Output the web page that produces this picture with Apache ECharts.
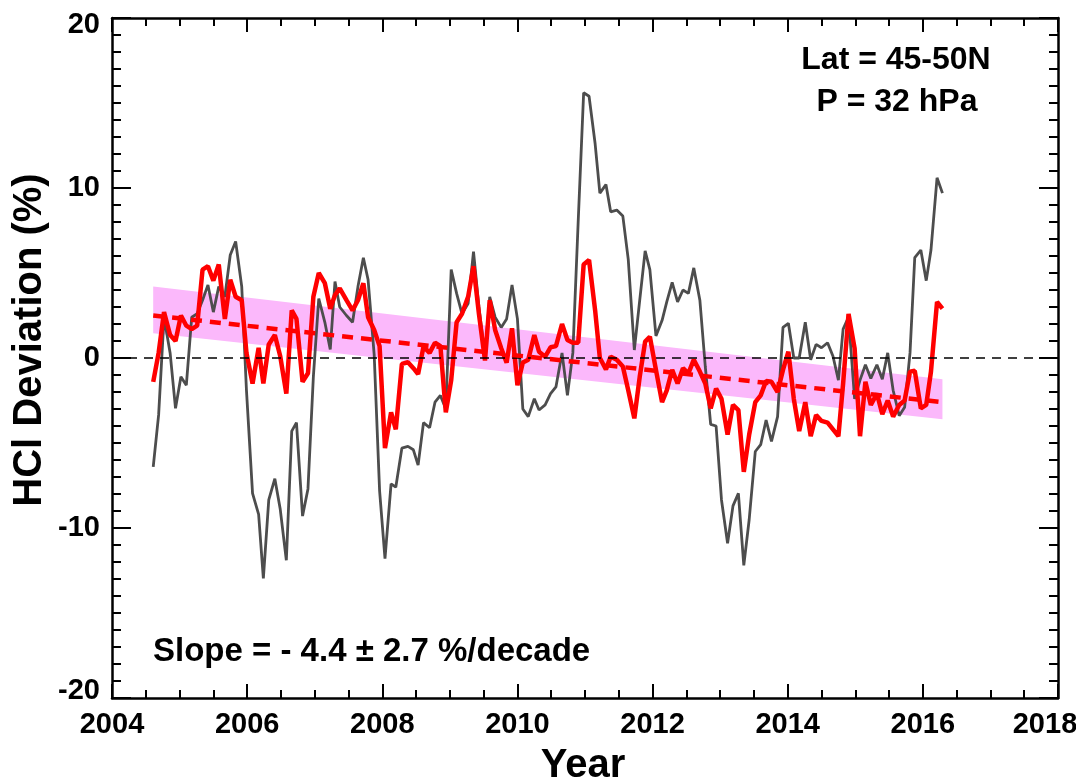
<!DOCTYPE html>
<html>
<head>
<meta charset="utf-8">
<title>HCl Deviation</title>
<script src="https://cdn.jsdelivr.net/npm/echarts@6/dist/echarts.min.js"></script>
<style>
  html, body { margin: 0; padding: 0; background: #fff; }
  #chart { width: 1076px; height: 783px; }
</style>
</head>
<body>
<div id="chart"></div>
<script>
// decimal year of each monthly point
var times = [
  2004.61,2004.69,2004.77,2004.86,2004.94,
  2005.02,2005.10,2005.18,2005.26,2005.34,2005.42,2005.50,2005.58,2005.67,2005.75,2005.83,2005.92,2005.99,
  2006.08,2006.17,2006.24,2006.32,2006.41,2006.49,2006.58,2006.66,2006.73,2006.82,2006.90,2006.98,
  2007.06,2007.15,2007.23,2007.30,2007.37,2007.47,2007.56,2007.64,2007.72,2007.79,2007.88,2007.96,
  2008.04,2008.13,2008.20,2008.29,2008.38,2008.46,2008.53,2008.61,2008.70,2008.78,2008.86,2008.94,
  2009.02,2009.10,2009.18,2009.27,2009.35,2009.43,2009.52,2009.59,2009.67,2009.76,2009.84,2009.92,
  2010.00,2010.08,2010.16,2010.25,2010.32,2010.41,2010.49,2010.57,2010.66,2010.74,2010.82,2010.90,2010.98,
  2011.06,2011.15,2011.22,2011.31,2011.38,2011.47,2011.56,2011.64,2011.73,2011.81,2011.89,2011.96,
  2012.05,2012.14,2012.21,2012.29,2012.37,2012.45,2012.53,2012.61,2012.70,2012.78,2012.86,2012.94,
  2013.02,2013.11,2013.19,2013.27,2013.35,2013.43,2013.52,2013.60,2013.68,2013.76,2013.85,2013.93,
  2014.01,2014.09,2014.17,2014.26,2014.34,2014.42,2014.50,2014.59,2014.67,2014.75,2014.82,2014.90,2014.99,
  2015.07,2015.15,2015.23,2015.32,2015.40,2015.48,2015.56,2015.65,2015.73,2015.81,2015.88,2015.97,
  2016.05,2016.12,2016.21,2016.29
];

// grey curve
var grayVals = [
  -6.4,-3.35,2.4,0.3,-2.96,
  -1.1,-1.6,2.4,2.6,3.4,4.3,2.7,4.2,3.6,6.06,6.85,4.2,-1.9,
  -7.96,-9.2,-12.96,-8.35,-7.1,-8.9,-11.9,-4.3,-3.8,-9.3,-7.7,-1.1,
  3.5,2.1,0.5,4.5,3.0,2.5,2.1,4.2,5.9,4.6,0.2,-7.8,
  -11.8,-7.4,-7.6,-5.3,-5.2,-5.4,-6.3,-3.8,-4.1,-2.6,-2.2,-3.0,
  5.2,3.8,2.6,3.2,6.25,3.0,0.1,3.6,2.4,1.8,2.3,4.3,
  2.3,-3.0,-3.45,-2.4,-3.06,-2.76,-2.1,-1.7,0.3,-2.2,0.3,8.1,15.6,
  15.4,12.6,9.7,10.2,8.6,8.7,8.35,5.8,0.47,3.4,6.3,5.2,
  1.3,2.2,3.3,4.45,3.3,4.0,3.8,5.3,3.4,-0.5,-3.9,-4.0,
  -8.35,-10.9,-8.7,-7.96,-12.2,-9.5,-5.5,-5.1,-3.65,-4.9,-3.45,1.8,
  2.04,0,0,2.1,-0.1,0.8,0.6,0.9,0.1,-1.3,1.7,2.4,-2.4,
  -1.3,-0.4,-1.2,-0.4,-1.25,0.3,-1.9,-3.4,-2.9,0.3,5.9,6.35,
  4.55,6.35,10.6,9.7
];

// red curve
var redVals = [
  -1.4,0.3,2.7,1.35,1.0,
  2.5,1.9,1.7,1.9,5.2,5.4,4.55,5.5,2.3,4.6,3.6,3.4,0.3,
  -1.5,0.6,-1.5,0.8,1.35,0.1,-2.1,2.8,2.3,-1.4,-0.9,3.6,
  5.0,4.4,2.9,3.7,4.1,3.4,2.8,3.4,4.4,2.4,1.65,0.7,
  -5.3,-3.2,-4.2,-0.35,-0.25,-0.6,-0.94,0.67,0.3,0.9,0.7,-3.2,
  -1.3,2.1,2.6,3.6,5.4,2.6,-0.15,3.4,1.65,0.57,-0.27,1.75,
  -1.6,-0.27,-0.1,1.35,0.37,0.08,0.63,0.7,2.0,1.06,0.9,0.9,5.5,
  5.76,2.8,0,-0.67,0.08,-0.1,-0.5,-1.9,-3.55,-1.1,0.96,1.25,
  -0.7,-2.6,-1.9,-0.7,-1.5,-0.6,-0.9,-0.1,-0.8,-1.5,-2.96,-1.8,
  -2.4,-4.5,-2.76,-3.06,-6.7,-4.5,-2.6,-2.2,-1.35,-1.4,-2.0,-0.7,
  0.37,-2.4,-4.3,-2.6,-4.6,-3.35,-3.7,-3.8,-4.2,-4.6,-1.5,2.6,0.57,
  -4.6,-1.4,-2.76,-2.1,-3.3,-2.5,-3.45,-2.76,-2.5,-0.8,-0.75,-2.96,
  -2.76,-0.8,3.3,2.9
];

// linear trend and its uncertainty band
var trendX = [2004.61, 2016.29];
var trendY = [2.5, -2.6];
var bandUpper = [4.2, -1.25];
var bandLower = [1.45, -3.6];

var FONT = "'Liberation Sans', Arial, Helvetica, sans-serif";

function zip(xs, ys) {
  var out = [];
  for (var i = 0; i < xs.length; i++) out.push([xs[i], ys[i]]);
  return out;
}

var labelFont = { color: '#000', fontSize: 29, fontWeight: 'bold', fontFamily: FONT };

function xAxisCfg(pos, showLabel) {
  return {
    type: 'value', position: pos, min: 2004, max: 2018, interval: 2,
    axisLine: { show: true, onZero: false, lineStyle: { color: '#000', width: 2.5 } },
    axisTick: { show: true, inside: true, length: 14, lineStyle: { color: '#000', width: 2 } },
    minorTick: { show: true, splitNumber: 4, length: 8, lineStyle: { color: '#000', width: 2 } },
    splitLine: { show: false },
    axisLabel: {
      show: showLabel, color: '#000', fontSize: 29, fontWeight: 'bold', fontFamily: FONT,
      margin: 12, showMinLabel: true, showMaxLabel: true,
      formatter: function (v) {
        // last label sits pulled in from the edge, as in the original
        return v === 2018 ? '{last|2018}' : v.toFixed(0);
      },
      rich: {
        last: Object.assign({ padding: [0, 26, 0, 0] }, labelFont)
      }
    }
  };
}

function yAxisCfg(pos, showLabel) {
  return {
    type: 'value', position: pos, min: -20, max: 20, interval: 10,
    axisLine: { show: true, onZero: false, lineStyle: { color: '#000', width: 2.5 } },
    axisTick: { show: true, inside: true, length: 19, lineStyle: { color: '#000', width: 2 } },
    minorTick: { show: true, splitNumber: 10, length: 9, lineStyle: { color: '#000', width: 2 } },
    splitLine: { show: false },
    axisLabel: {
      show: showLabel, color: '#000', fontSize: 29, fontWeight: 'bold', fontFamily: FONT,
      margin: 12, showMinLabel: true, showMaxLabel: true,
      formatter: function (v) {
        if (v === 20) return '{top|20}';
        if (v === -20) return '{bot|-20}';
        return String(v);
      },
      rich: {
        top: Object.assign({ padding: [14, 0, 0, 0] }, labelFont),
        bot: Object.assign({ padding: [0, 0, 14, 0] }, labelFont)
      }
    }
  };
}

var chart = echarts.init(document.getElementById('chart'));

var option = {
  animation: false,
  backgroundColor: '#fff',
  grid: { left: 112, right: 18, top: 18, bottom: 85, containLabel: false, outerBoundsMode: 'none' },
  xAxis: [xAxisCfg('bottom', true), xAxisCfg('top', false)],
  yAxis: [yAxisCfg('left', true), yAxisCfg('right', false)],
  graphic: [
    { type: 'text', x: 896, y: 60, z: 100,
      style: { text: 'Lat = 45-50N', font: 'bold 32px ' + FONT, fill: '#000', textAlign: 'center', textVerticalAlign: 'middle' } },
    { type: 'text', x: 897, y: 102, z: 100,
      style: { text: 'P = 32 hPa', font: 'bold 32px ' + FONT, fill: '#000', textAlign: 'center', textVerticalAlign: 'middle' } },
    { type: 'text', x: 153, y: 652, z: 100,
      style: { text: 'Slope = - 4.4 \u00b1 2.7 %/decade', font: 'bold 33px ' + FONT, fill: '#000', textAlign: 'left', textVerticalAlign: 'middle' } },
    { type: 'text', x: 30, y: 340, rotation: Math.PI / 2, z: 100,
      style: { text: 'HCl Deviation (%)', font: 'bold 40px ' + FONT, fill: '#000', textAlign: 'center', textVerticalAlign: 'middle' } },
    { type: 'text', x: 583, y: 766, z: 100,
      style: { text: 'Year', font: 'bold 40px ' + FONT, fill: '#000', textAlign: 'center', textVerticalAlign: 'middle' } }
  ],
  series: [
    {
      name: 'band', type: 'custom', z: 1, silent: true,
      data: [[trendX[0], bandLower[0], bandUpper[0]], [trendX[1], bandLower[1], bandUpper[1]]],
      encode: { x: 0, y: [1, 2] },
      renderItem: function (params, api) {
        if (params.dataIndex !== 0) return null;
        var pts = [
          api.coord([trendX[0], bandUpper[0]]),
          api.coord([trendX[1], bandUpper[1]]),
          api.coord([trendX[1], bandLower[1]]),
          api.coord([trendX[0], bandLower[0]])
        ];
        return { type: 'polygon', shape: { points: pts }, style: { fill: '#fbb8fb' } };
      }
    },
    {
      name: 'grey', type: 'line', z: 3, showSymbol: false, symbol: 'none',
      data: zip(times, grayVals),
      lineStyle: { color: '#4d4d4d', width: 2.8 },
      markLine: {
        silent: true, symbol: 'none', label: { show: false },
        lineStyle: { color: '#000', type: [9, 7], width: 1.5 },
        data: [{ yAxis: 0 }]
      }
    },
    {
      name: 'red', type: 'line', z: 4, showSymbol: false, symbol: 'none',
      data: zip(times, redVals),
      lineStyle: { color: '#ff0000', width: 4.5 }
    },
    {
      name: 'trend', type: 'line', z: 5, showSymbol: false, symbol: 'none',
      data: zip(trendX, trendY),
      lineStyle: { color: '#ff0000', width: 4.5, type: [11, 8] }
    }
  ]
};

chart.setOption(option);
</script>
</body>
</html>
